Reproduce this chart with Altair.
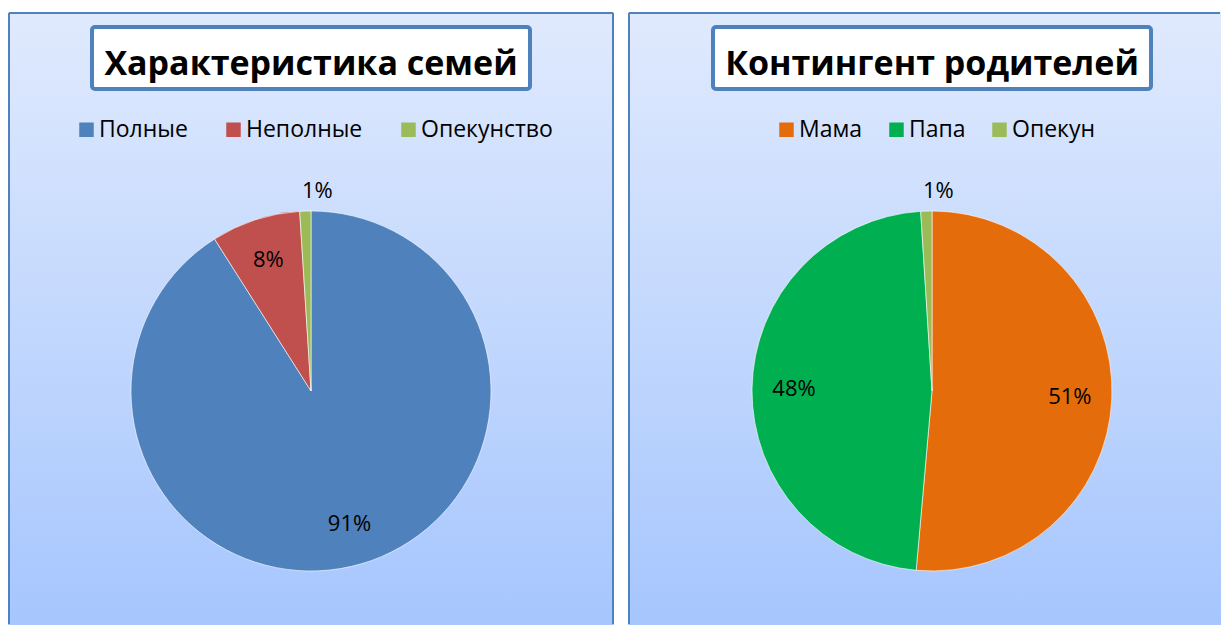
import altair as alt
import pandas as pd

# ---- data ----
left_title = "Характеристика семей"
left_cats = ["Полные", "Неполные", "Опекунство"]
left_vals = [91, 8, 1]
left_colors = ["#4F81BD", "#C0504D", "#9BBB59"]

right_title = "Контингент родителей"
right_cats = ["Мама", "Папа", "Опекун"]
right_vals = [51.4, 47.6, 1.0]
right_colors = ["#E46C0A", "#00B050", "#9BBB59"]

FONT = "Open Sans"
H = 613
BORDER = "#4F81BD"


def panel(title, cats, vals, colors, w, cx, legend_x, col_pad, right_border):
    df = pd.DataFrame({"cat": cats, "value": vals, "idx": list(range(len(cats)))})
    one = pd.DataFrame({"k": [0]})
    grad = alt.LinearGradient(
        gradient="linear",
        stops=[alt.GradientStop(color="#E0EAFD", offset=0),
               alt.GradientStop(color="#A6C6FE", offset=1)],
        x1=0, x2=0, y1=0, y2=1,
    )
    layers = []
    layers.append(alt.Chart(one).mark_rect(color=grad).encode(
        x=alt.value(0), x2=alt.value(w), y=alt.value(0), y2=alt.value(H)))
    layers.append(alt.Chart(one).mark_rule(color=BORDER, strokeWidth=2).encode(
        x=alt.value(1), y=alt.value(1), y2=alt.value(H - 1)))
    layers.append(alt.Chart(one).mark_rule(color=BORDER, strokeWidth=2).encode(
        x=alt.value(1), x2=alt.value(w - 1), y=alt.value(1)))
    if right_border:
        layers.append(alt.Chart(one).mark_rule(color=BORDER, strokeWidth=2).encode(
            x=alt.value(w - 1), y=alt.value(1), y2=alt.value(H - 1)))
    # title box
    layers.append(alt.Chart(one).mark_rect(
        fill="white", stroke=BORDER, strokeWidth=4, cornerRadius=3).encode(
        x=alt.value(cx - 219), x2=alt.value(cx + 219), y=alt.value(15), y2=alt.value(77)))
    layers.append(alt.Chart(one).mark_text(
        text=title, font=FONT, fontSize=34, fontWeight="bold", color="black",
        align="center", baseline="alphabetic").encode(
        x=alt.value(cx), y=alt.value(63)))

    base = alt.Chart(df).encode(
        theta=alt.Theta("value:Q", stack=True),
        order=alt.Order("idx:Q"),
        x=alt.value(cx), y=alt.value(379),
    )
    pie = base.mark_arc(outerRadius=180, stroke="white", strokeWidth=0.6).encode(
        color=alt.Color(
            "cat:N",
            scale=alt.Scale(domain=cats, range=colors),
            legend=alt.Legend(
                title=None, orient="none", legendX=legend_x, legendY=106,
                direction="horizontal", symbolType="square", symbolSize=210,
                symbolStrokeWidth=0, labelFontSize=23, labelFont=FONT,
                labelColor="black", columnPadding=col_pad, labelOffset=1,
            ),
        )
    )
    labels = base.transform_calculate(
        label="round(datum.value) + '%'",
        r="datum.value < 3 ? 200 : 138",
    ).mark_text(font=FONT, fontSize=22, color="black").encode(
        radius=alt.Radius("r:Q", scale=None),
        text="label:N",
    )
    layers += [pie, labels]
    return alt.layer(*layers).properties(width=w, height=H)


left = panel(left_title, left_cats, left_vals, left_colors, 606, 303, 67, 34, True)
right = panel(right_title, right_cats, right_vals, right_colors, 593, 304, 147, 22, False)

chart = (
    alt.hconcat(left, right, spacing=14)
    .resolve_scale(color="independent", theta="independent")
    .properties(padding={"left": 8, "top": 12, "right": 0, "bottom": 0})
    .configure_view(strokeWidth=0)
)

chart.save("out.html", embed_options={"renderer": "svg", "actions": False})
